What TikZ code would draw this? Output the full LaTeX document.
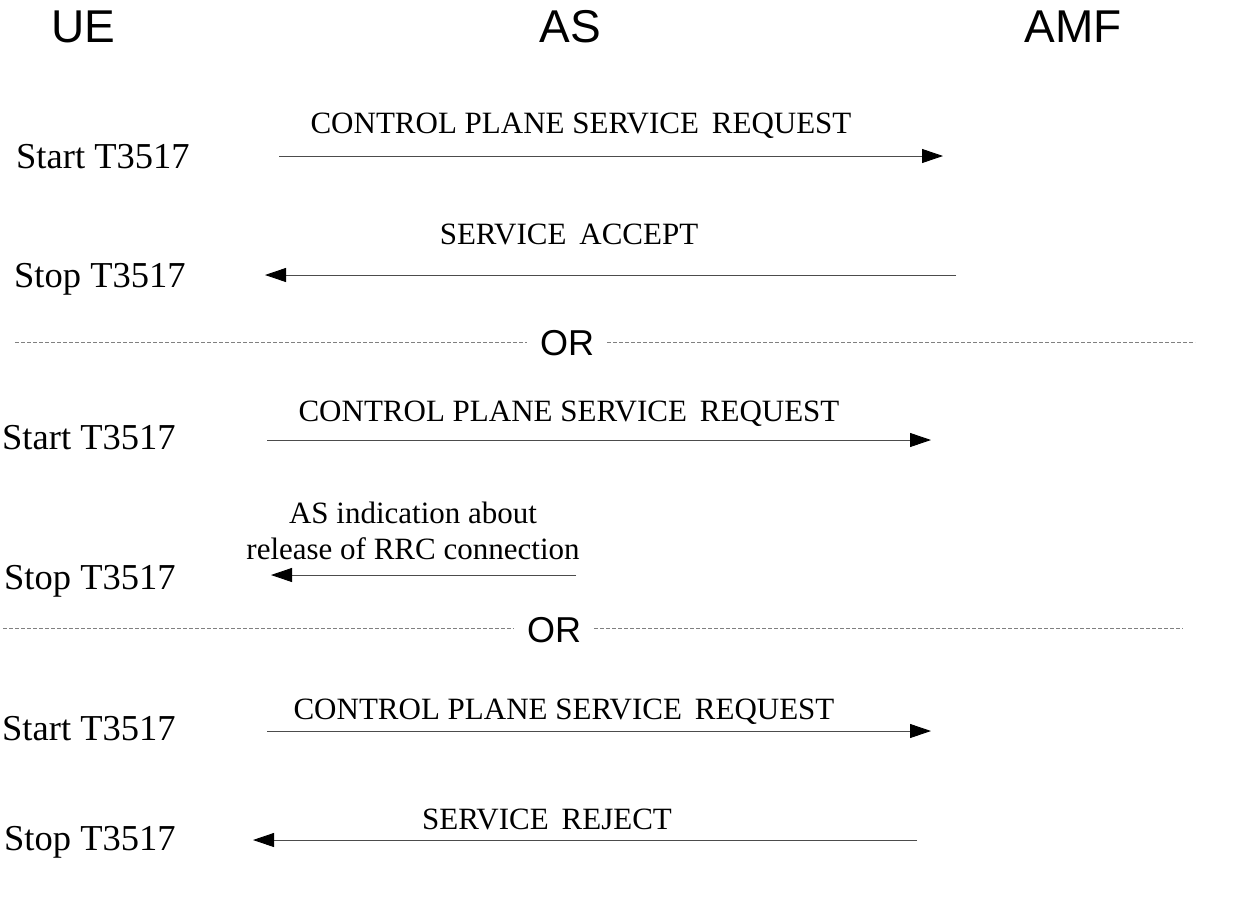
\documentclass[tikz,border=0pt]{standalone}
\usepackage{fontspec}
\setmainfont{Liberation Serif}
\newfontfamily\hfont{Liberation Sans}
\usetikzlibrary{arrows.meta}
\begin{document}
\begin{tikzpicture}[x=1pt,y=-1pt,
  head/.style={font=\hfont\fontsize{46}{50}\selectfont,inner sep=0,anchor=base},
  timer/.style={font=\fontsize{36.5}{40}\selectfont,inner sep=0,anchor=base west},
  msg/.style={font=\fontsize{31}{36}\selectfont,inner sep=0,anchor=base,align=center},
  ortext/.style={font=\hfont\fontsize{36}{40}\selectfont,inner sep=0,anchor=base},
  msgline/.style={draw=black!70,line width=0.9pt,-{Triangle[length=21pt,width=14pt,color=black]}},
  sep/.style={draw=black!50,line width=1pt,dash pattern=on 4pt off 2pt}]
\useasboundingbox (0,0) rectangle (1246,913);
% headers
\node[head] (ue) at (83,42) {UE};
\node[head] (as) at (570,42) {AS};
\node[head] (amf) at (1073,42) {AMF};
% block 1
\node[timer] (t1) at (16,168) {Start T3517};
\coordinate (a1s) at (279,156); \coordinate (a1e) at (943,156);
\draw[msgline] (a1s) -- (a1e);
\node[msg] (m1) at (581,133) {CONTROL PLANE SERVICE\, REQUEST};
\node[timer] (t2) at (14,287) {Stop T3517};
\coordinate (a2s) at (956,275); \coordinate (a2e) at (265,275);
\draw[msgline] (a2s) -- (a2e);
\node[msg] (m2) at (569,244) {SERVICE\, ACCEPT};
% separator 1
\node[ortext] (or1) at (567,355) {OR};
\coordinate (d1a) at (15,342); \coordinate (d1b) at (527,342);
\coordinate (d1c) at (607,342); \coordinate (d1d) at (1195,342);
\draw[sep] (d1a) -- (d1b);
\draw[sep] (d1c) -- (d1d);
% block 2
\node[timer] (t3) at (2,449) {Start T3517};
\coordinate (a3s) at (267,440); \coordinate (a3e) at (931,440);
\draw[msgline] (a3s) -- (a3e);
\node[msg] (m3) at (569,421) {CONTROL PLANE SERVICE\, REQUEST};
\node[timer] (t4) at (4,589) {Stop T3517};
\coordinate (a4s) at (576,575); \coordinate (a4e) at (271,575);
\draw[msgline] (a4s) -- (a4e);
\node[msg,anchor=center] (m4) at (413,531) {AS indication about\\release of RRC connection};
% separator 2
\node[ortext] (or2) at (554,642) {OR};
\coordinate (d2a) at (3,628); \coordinate (d2b) at (514,628);
\coordinate (d2c) at (594,628); \coordinate (d2d) at (1183,628);
\draw[sep] (d2a) -- (d2b);
\draw[sep] (d2c) -- (d2d);
% block 3
\node[timer] (t5) at (2,740) {Start T3517};
\coordinate (a5s) at (267,731); \coordinate (a5e) at (931,731);
\draw[msgline] (a5s) -- (a5e);
\node[msg] (m5) at (564,719) {CONTROL PLANE SERVICE\, REQUEST};
\node[timer] (t6) at (4,850) {Stop T3517};
\coordinate (a6s) at (917,840); \coordinate (a6e) at (253,840);
\draw[msgline] (a6s) -- (a6e);
\node[msg] (m6) at (547,829) {SERVICE\, REJECT};
\end{tikzpicture}
\end{document}
